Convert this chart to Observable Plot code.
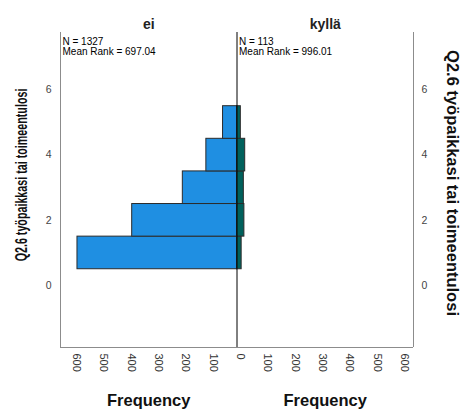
<!DOCTYPE html>
<html><head><meta charset="utf-8">
<script src="https://cdn.jsdelivr.net/npm/d3@7"></script>
<script src="https://cdn.jsdelivr.net/npm/@observablehq/plot@0.6"></script>
<style>body{margin:0;background:#fff}svg{display:block}</style>
</head><body><div id="chart"></div>
<script>
const categories = [1, 2, 3, 4, 5];
const eiCounts = [583, 383, 198, 112, 51];
const kyllaCounts = [17, 27, 25, 30, 14];
const groups = ["ei", "kyllä"];
const groupN = [1327, 113];
const meanRanks = ["697.04", "996.01"];
const yTicks = [0, 2, 4, 6];
const freqTicks = [-600, -500, -400, -300, -200, -100, 0, 100, 200, 300, 400, 500, 600];
const yLabel = "Q2.6 työpaikkasi tai toimeentulosi";
const xLabel = "Frequency";

const XMAX = 645;
const bars = [
  ...categories.map((c, i) => ({g: "ei", c, x1: -eiCounts[i], x2: 0})),
  ...categories.map((c, i) => ({g: "kyllä", c, x1: 0, x2: kyllaCounts[i]}))
];
const font = "'Liberation Sans', Arial, sans-serif";
const panelCenters = [-XMAX / 2, XMAX / 2];
const annX = (d, i) => i === 0 ? -XMAX : 0;

const plot = Plot.plot({
  width: 462, height: 414,
  marginLeft: 60, marginRight: 49, marginTop: 32, marginBottom: 67,
  style: {fontFamily: font, background: "#fff"},
  x: {domain: [-XMAX, XMAX], axis: null},
  y: {domain: [-1.9, 7.76], axis: null},
  marks: [
    Plot.rect(bars, {x1: "x1", x2: "x2", y1: d => d.c - 0.5, y2: d => d.c + 0.5,
      fill: d => d.g === "ei" ? "#1f8fe2" : "#00615c", stroke: "#2b2b2b", strokeWidth: 1}),
    Plot.ruleX([-XMAX, XMAX], {stroke: "#8c8c8c", strokeWidth: 1}),
    Plot.ruleY([-1.9], {stroke: "#8c8c8c", strokeWidth: 1}),
    Plot.ruleX([0], {stroke: "#000", strokeWidth: 1}),
    Plot.axisY(yTicks, {anchor: "left", tickSize: 0, tickPadding: 9, fontSize: 10.5, color: "#444", label: null}),
    Plot.axisY(yTicks, {anchor: "right", tickSize: 0, tickPadding: 8, fontSize: 10.5, color: "#444", label: null}),
    Plot.text(freqTicks, {x: d => d, text: d => String(Math.abs(d)), frameAnchor: "bottom", dy: 6,
      rotate: 90, textAnchor: "start", fontSize: 11, fill: "#333"}),
    Plot.text(groups, {x: (d, i) => panelCenters[i], text: d => d, frameAnchor: "top", dy: -13,
      fontSize: 14, fontWeight: "bold", fill: "#222"}),
    Plot.text(groups, {x: (d, i) => panelCenters[i], text: () => xLabel, frameAnchor: "bottom", dy: 58,
      fontSize: 16.5, fontWeight: "bold", fill: "#111"}),
    Plot.text(groups, {x: annX, text: (d, i) => `N = ${groupN[i]}`,
      frameAnchor: "top", textAnchor: "start", lineAnchor: "top", dx: 2, dy: 5, fontSize: 10, fill: "#000"}),
    Plot.text(groups, {x: annX, text: (d, i) => `Mean Rank = ${meanRanks[i]}`,
      frameAnchor: "top", textAnchor: "start", lineAnchor: "top", dx: 2, dy: 15.5, fontSize: 10, fill: "#000"})
  ]
});

const svg = d3.select(plot);
svg.append("text")
  .attr("transform", "translate(27,175) rotate(-90) scale(0.65,1)")
  .attr("text-anchor", "middle")
  .attr("font-family", font).attr("font-size", 16.5).attr("font-weight", "bold").attr("fill", "#111")
  .text(yLabel);
svg.append("text")
  .attr("transform", "translate(447,183) rotate(90)")
  .attr("text-anchor", "middle")
  .attr("font-family", font).attr("font-size", 16.5).attr("font-weight", "bold").attr("fill", "#111")
  .text(yLabel);

document.getElementById("chart").appendChild(plot);
</script></body></html>
